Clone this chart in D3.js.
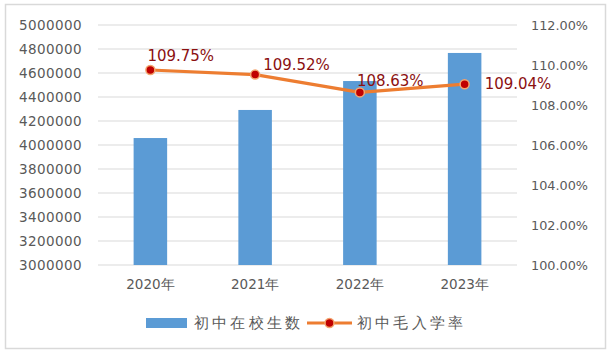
<!DOCTYPE html>
<html>
<head>
<meta charset="utf-8">
<script src="https://cdn.jsdelivr.net/npm/d3@7"></script>
<style>
  body { margin: 0; background: #fff; }
  text { font-family: "DejaVu Sans", Verdana, sans-serif; }
</style>
</head>
<body>
<div id="chart"></div>
<script>
//// data
var years = ["2020年", "2021年", "2022年", "2023年"];
var students = [4058000, 4292000, 4533000, 4767000];
var rates = [109.75, 109.52, 108.63, 109.04];
var leftTicks = d3.range(3000000, 5000001, 200000);
var rightTicks = [100, 102, 104, 106, 108, 110, 112];
var seriesNames = ["初中在校生数", "初中毛入学率"];

// label nudges (px) so they sit like the original
var labelDx = [-3, 8, -3, 20];
var labelDy = [-14, -10, -12, 0];

//// chart
var width = 613, height = 355;
var margin = {top: 25, right: 98, bottom: 90, left: 98};

var svg = d3.select("#chart")
  .append("svg")
    .attr("width", width)
    .attr("height", height);

svg.append("rect")
  .attr("x", 5.5).attr("y", 4.5)
  .attr("width", 600).attr("height", 344)
  .attr("fill", "#fff")
  .attr("stroke", "#d9d9d9")
  .attr("stroke-width", 1.5);

var xScale = d3.scaleBand()
  .domain(years)
  .range([margin.left, width - margin.right + 2])
  .paddingInner(0.68)
  .paddingOuter(0.34);

var yLeft = d3.scaleLinear()
  .domain([3000000, 5000000])
  .range([height - margin.bottom, margin.top]);

var yRight = d3.scaleLinear()
  .domain([100, 112])
  .range([height - margin.bottom, margin.top]);

// grid
svg.append("g")
  .selectAll("line")
  .data(leftTicks)
  .enter().append("line")
    .attr("x1", margin.left)
    .attr("x2", width - margin.right + 2)
    .attr("y1", d => yLeft(d))
    .attr("y2", d => yLeft(d))
    .attr("stroke", "#d9d9d9")
    .attr("stroke-width", 1.2);

// left axis
var leftAxis = svg.append("g")
  .attr("transform", "translate(" + (margin.left - 13) + ",0)")
  .call(d3.axisLeft(yLeft).tickValues(leftTicks).tickSize(0).tickFormat(d3.format("d")));
leftAxis.select(".domain").remove();
leftAxis.selectAll("text")
  .attr("fill", "#595959")
  .style("font-size", "13.5px")
  .style("letter-spacing", "0.4px");

// right axis
var rightAxis = svg.append("g")
  .attr("transform", "translate(" + (width - margin.right + 13) + ",0)")
  .call(d3.axisRight(yRight).tickValues(rightTicks).tickSize(0).tickFormat(d => d.toFixed(2) + "%"));
rightAxis.select(".domain").remove();
rightAxis.selectAll("text")
  .attr("fill", "#595959")
  .style("font-size", "12.8px");

// x axis
var xAxis = svg.append("g")
  .attr("transform", "translate(0," + (height - margin.bottom) + ")")
  .call(d3.axisBottom(xScale).tickSize(0).tickPadding(14));
xAxis.select(".domain").remove();
xAxis.selectAll("text")
  .attr("fill", "#595959")
  .style("font-size", "13.5px");

//// bars
svg.selectAll(".bar")
  .data(students)
  .enter().append("rect")
    .attr("class", "bar")
    .attr("x", (d, i) => xScale(years[i]))
    .attr("width", xScale.bandwidth())
    .attr("y", d => yLeft(d))
    .attr("height", d => yLeft(3000000) - yLeft(d))
    .attr("fill", "#5b9bd5");

//// line
var cx = i => xScale(years[i]) + xScale.bandwidth() / 2;
var line = d3.line()
  .x((d, i) => cx(i))
  .y(d => yRight(d));

svg.append("path")
  .datum(rates)
  .attr("d", line)
  .attr("fill", "none")
  .attr("stroke", "#ed7d31")
  .attr("stroke-width", 3.2)
  .attr("stroke-linejoin", "round");

svg.selectAll(".dot")
  .data(rates)
  .enter().append("circle")
    .attr("class", "dot")
    .attr("cx", (d, i) => cx(i))
    .attr("cy", d => yRight(d))
    .attr("r", 4.5)
    .attr("fill", "#c00000")
    .attr("stroke", "#f4a56e")
    .attr("stroke-width", 1.5);

svg.selectAll(".lbl")
  .data(rates)
  .enter().append("text")
    .attr("class", "lbl")
    .attr("x", (d, i) => cx(i) + labelDx[i])
    .attr("y", (d, i) => yRight(d) + labelDy[i])
    .attr("dy", "0.35em")
    .attr("fill", "#8b1010")
    .style("font-size", "15px")
    .text(d => d.toFixed(2) + "%");

//// legend
var legend = svg.append("g").attr("transform", "translate(0,323)");
legend.append("rect")
  .attr("x", 146).attr("y", -5)
  .attr("width", 41).attr("height", 10)
  .attr("fill", "#5b9bd5");
legend.append("text")
  .attr("x", 194).attr("dy", "0.35em")
  .attr("fill", "#595959")
  .style("font-size", "14.5px")
  .style("letter-spacing", "3.2px")
  .text(seriesNames[0]);
legend.append("line")
  .attr("x1", 307).attr("x2", 352)
  .attr("stroke", "#ed7d31")
  .attr("stroke-width", 3.2);
legend.append("circle")
  .attr("cx", 329.5).attr("r", 4.5)
  .attr("fill", "#c00000")
  .attr("stroke", "#f4a56e")
  .attr("stroke-width", 1.5);
legend.append("text")
  .attr("x", 357).attr("dy", "0.35em")
  .attr("fill", "#595959")
  .style("font-size", "14.5px")
  .style("letter-spacing", "3.2px")
  .text(seriesNames[1]);
</script>
</body>
</html>
